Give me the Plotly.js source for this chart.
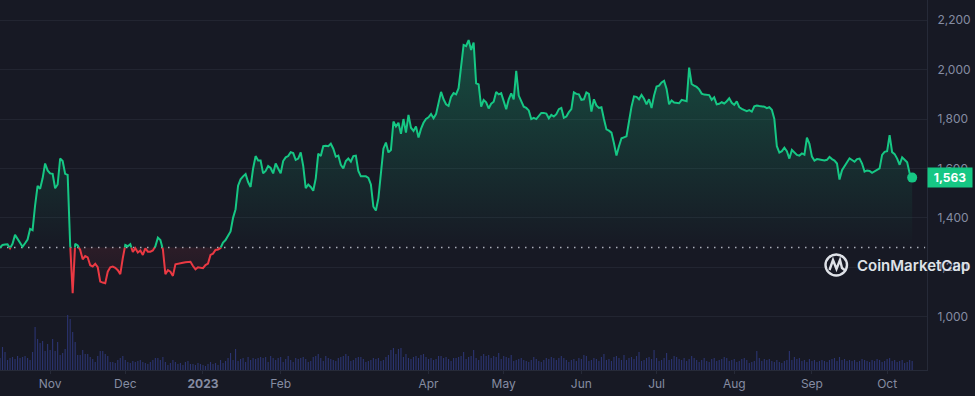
<!DOCTYPE html>
<html>
<head>
<meta charset="utf-8">
<script src="https://cdn.plot.ly/plotly-3.0.1.min.js"></script>
<style>
  html, body { margin: 0; padding: 0; background: #171924; }
  #chart { width: 975px; height: 396px; }
</style>
</head>
<body>
<div id="chart"></div>
<script>
// ---- DATA (ETH price, daily) ----
const startDate = '2022-10-12';
const prices = [
  1280,1290,1292,1293,1277,1295,1331,1315,1295,1283,
  1297,1312,1355,1350,1450,1529,1518,1560,1620,1592,
  1580,1578,1520,1535,1640,1630,1578,1574,1290,1095,
  1295,1288,1270,1232,1245,1240,1208,1203,1214,1200,
  1142,1138,1135,1182,1200,1203,1198,1188,1172,1237,
  1290,1285,1293,1262,1277,1260,1268,1250,1276,1263,
  1263,1268,1285,1320,1310,1272,1172,1188,1182,1165,
  1212,1215,1216,1218,1220,1222,1222,1205,1192,1200,
  1197,1196,1209,1215,1250,1255,1270,1272,1278,1300,
  1310,
  1325,1345,1400,1435,1530,1556,1568,1577,1545,1525,
  1600,1650,1632,1632,1580,1590,1610,1602,1580,1620,
  1600,1580,1630,1645,1650,1666,1662,1635,1640,1665,
  1610,1520,1535,1525,1510,1560,1660,1650,1690,1692,
  1690,1700,1680,1648,1652,1615,1600,1630,1640,1628,
  1650,1652,1590,1568,1568,1568,1562,1535,1445,1430,
  1480,1580,1680,1705,1665,1675,1790,1770,1785,1740,
  1800,1745,1817,1765,1752,1770,1725,1760,1785,1800,
  1807,1820,1803,1820,1870,1910,1880,1860,1853,1890,
  1905,1900,1925,2010,2100,2095,2120,2080,2110,1945,
  1940,1850,1877,1868,1843,1862,1870,1910,1900,1905,
  1870,1840,1880,1904,1880,1995,1895,1870,1850,1845,
  1835,1800,1805,1800,1815,1825,1825,1822,1803,1817,
  1810,1820,1840,1845,1805,1810,1828,1840,1908,1902,
  1900,1878,1880,1908,1902,1830,1880,1855,1845,1848,
  1800,1758,1753,1745,1702,1652,1690,1722,1726,1730,
  1790,1850,1892,1890,1880,1898,1882,1860,1880,1845,
  1895,1932,1935,1948,1955,1922,1860,1875,1867,1866,
  1864,
  1878,1875,1872,2008,1942,1935,1930,1920,1903,1899,
  1897,1897,1878,1888,1860,1862,1868,1863,1872,1884,
  1866,1858,1872,1848,1841,1835,1832,1836,1830,1852,
  1855,1853,1851,1850,1844,1848,1838,1800,1690,1664,
  1670,1684,1670,1640,1675,1665,1655,1652,1661,1656,
  1725,1700,1648,1632,1638,1636,1633,1632,1635,1647,
  1638,1632,1620,1555,1593,1610,1628,1641,1634,1627,
  1638,1640,1620,1587,1592,1590,1582,1588,1595,1600,
  1655,1667,1670,1735,1666,1658,1640,1615,1645,1636,
  1625,1580,1563
];
// relative daily volume
const volumes = [
  12,23,18,10,12,13,11,14,12,13,
  14,12,10,18,43,31,27,29,19,26,
  20,31,19,28,15,17,21,55,51,38,
  28,15,15,20,16,16,13,11,8,14,
  19,19,16,14,8,8,7,10,12,14,
  10,8,7,9,8,9,10,8,7,6,
  8,10,12,12,10,13,8,5,7,10,
  8,6,7,5,8,9,6,6,5,7,
  6,5,4,6,8,6,7,5,10,7,
  9,12,17,10,21,9,11,12,8,13,
  10,12,11,12,13,12,13,8,14,12,
  10,12,13,8,11,14,10,8,12,11,
  12,13,11,8,9,13,14,16,12,9,
  14,12,11,10,9,12,13,14,16,14,
  9,10,12,13,13,11,8,9,10,12,
  11,12,9,10,13,15,20,22,16,21,
  22,13,16,12,11,13,14,12,15,16,
  13,11,12,10,11,14,14,12,13,11,
  9,12,12,13,14,18,11,13,14,20,
  12,10,14,16,14,15,12,14,13,17,
  11,14,13,12,15,9,10,11,12,10,
  9,8,10,13,11,9,8,10,12,11,
  13,12,10,12,14,12,10,8,10,11,
  9,12,11,15,14,9,10,12,11,9,
  13,16,10,11,9,13,14,12,10,15,
  10,12,13,11,14,18,9,10,12,13,
  11,20,12,9,10,12,17,10,11,14,
  13,11,10,12,9,11,14,12,10,8,
  10,12,9,8,11,12,9,10,11,13,
  12,9,10,11,8,9,11,12,10,7,
  8,9,19,12,9,11,10,11,9,8,
  10,8,7,9,10,19,10,13,11,12,
  9,10,8,11,9,10,8,9,10,9,
  8,10,11,12,9,13,10,11,9,10,
  9,10,8,9,11,10,9,8,10,9,
  11,10,8,9,11,12,9,10,8,9,
  10,7,8,10,9
];
const tickDates = ['2022-11-01','2022-12-01','2023-01-01','2023-02-01','2023-04-01','2023-05-01','2023-06-01','2023-07-01','2023-08-01','2023-09-01','2023-10-01'];
const tickLabels = ['Nov','Dec','<b>2023</b>','Feb','Apr','May','Jun','Jul','Aug','Sep','Oct'];
const priceTicks = [1000,1200,1400,1600,1800,2000,2200];
const lastLabel = '1,563';

// ---- build ----
const DAY = 86400000;
const t0 = Date.parse(startDate + 'T00:00:00Z');
const iso = ms => new Date(ms).toISOString().slice(0,19).replace('T',' ');
const pDates = prices.map((_, i) => t0 + i*DAY);
const vDates = volumes.map((_, i) => iso(t0 + i*DAY));
const base = prices[0];

// points with baseline crossings inserted
const pts = [];
for (let i = 0; i < prices.length; i++) {
  pts.push([pDates[i], prices[i]]);
  if (i < prices.length - 1) {
    const a = prices[i] - base, b = prices[i+1] - base;
    if (a * b < 0) {
      const f = a / (a - b);
      pts.push([pDates[i] + f*DAY, base]);
    }
  }
}
const gx = [], gy = [], rx = [], ry = [];
pts.forEach(([t, v]) => {
  const d = iso(t);
  gx.push(d); gy.push(v >= base ? v : null);
  rx.push(d); ry.push(v <= base ? v : null);
});
const allX = pts.map(p => iso(p[0]));
const upY = pts.map(p => Math.max(p[1], base));
const dnY = pts.map(p => Math.min(p[1], base));
const baseY = pts.map(() => base);
const maxP = Math.max(...prices), minP = Math.min(...prices);

const traces = [
  { type: 'bar', x: vDates, y: volumes, yaxis: 'y2', marker: { color: '#2b3470', line: { width: 0 } }, hoverinfo: 'skip' },
  { type: 'scatter', mode: 'lines', x: allX, y: baseY, line: { width: 0 }, hoverinfo: 'skip' },
  { type: 'scatter', mode: 'lines', x: allX, y: upY, line: { width: 0 }, fill: 'tonexty',
    fillgradient: { type: 'vertical', start: base, stop: maxP,
      colorscale: [[0, 'rgba(22,199,132,0.0)'], [1, 'rgba(22,199,132,0.30)']] }, hoverinfo: 'skip' },
  { type: 'scatter', mode: 'lines', x: allX, y: baseY, line: { width: 0 }, hoverinfo: 'skip' },
  { type: 'scatter', mode: 'lines', x: allX, y: dnY, line: { width: 0 }, fill: 'tonexty',
    fillgradient: { type: 'vertical', start: minP, stop: base,
      colorscale: [[0, 'rgba(234,57,67,0.0)'], [1, 'rgba(234,57,67,0.10)']] }, hoverinfo: 'skip' },
  { type: 'scatter', mode: 'lines', x: rx, y: ry, connectgaps: false, line: { color: '#ea3943', width: 2 }, hoverinfo: 'skip' },
  { type: 'scatter', mode: 'lines', x: gx, y: gy, connectgaps: false, line: { color: '#16c784', width: 2 }, hoverinfo: 'skip' },
  { type: 'scatter', mode: 'markers', x: [iso(pDates[pDates.length-1])], y: [prices[prices.length-1]],
    marker: { color: '#16c784', size: 10 }, hoverinfo: 'skip' }
];

// logo helpers (pixel -> paper, plot area 927x370)
const PW = 927, PH = 370;
const px = x => x / PW, py = y => (PH - y) / PH;
const P = (x, y) => px(x).toFixed(5) + ',' + py(y).toFixed(5);
const logoPath = 'M' + P(829.5, 270) + ' L' + P(833, 260) + ' L' + P(836.5, 269) + ' L' + P(840, 260) + ' L' + P(842, 268) + ' L' + P(846, 271);

const layout = {
  width: 975, height: 396,
  margin: { l: 0, r: 48, t: 0, b: 26, pad: 0 },
  paper_bgcolor: '#171924', plot_bgcolor: '#171924',
  showlegend: false,
  bargap: 0.55,
  font: { family: 'Inter, "Noto Sans", sans-serif', color: '#858ca2', size: 12 },
  xaxis: {
    type: 'date',
    range: ['2022-10-12 00:00', '2023-10-16 22:00'],
    tickvals: tickDates, ticktext: tickLabels,
    showgrid: false, zeroline: false,
    showline: true, linecolor: '#262a38', linewidth: 1,
    ticks: 'outside', ticklen: 3, tickcolor: '#262a38',
    tickfont: { size: 12, color: '#858ca2' },
    fixedrange: true
  },
  yaxis: {
    side: 'right',
    range: [784, 2282],
    tickvals: priceTicks, tickformat: ',d',
    showgrid: true, gridcolor: '#222531', gridwidth: 1,
    zeroline: false,
    showline: true, linecolor: '#262a38', linewidth: 1,
    ticks: '', ticklabelstandoff: 7,
    tickfont: { size: 12, color: '#858ca2' },
    fixedrange: true
  },
  yaxis2: {
    overlaying: 'y', range: [0, 370], visible: false, fixedrange: true
  },
  shapes: [
    { type: 'line', xref: 'paper', x0: 0, x1: 0.998, yref: 'y', y0: base, y1: base,
      line: { color: 'rgba(220,224,235,0.75)', width: 1.5, dash: '1.5px,5.5px' }, layer: 'below' },
    { type: 'circle', xref: 'paper', yref: 'paper', x0: px(825.5), x1: px(847), y0: py(275.5), y1: py(254.5),
      line: { color: '#dfe2e8', width: 2.4 }, layer: 'above' },
    { type: 'path', xref: 'paper', yref: 'paper', path: logoPath,
      line: { color: '#dfe2e8', width: 2.4 }, layer: 'above' }
  ],
  annotations: [
    { xref: 'paper', yref: 'y', x: 1, y: prices[prices.length-1], xanchor: 'left', yanchor: 'middle',
      text: '<b>' + lastLabel + '</b>', showarrow: false,
      bgcolor: '#16c784', font: { color: '#ffffff', size: 12, family: 'Inter, sans-serif' },
      width: 40, height: 15, borderpad: 2, align: 'center' },
    { xref: 'paper', yref: 'paper', x: px(855), y: py(265.5), xanchor: 'left', yanchor: 'middle',
      text: 'CoinMarketCap', showarrow: false,
      font: { color: '#dfe2e8', size: 15, family: 'Inter, sans-serif', weight: 600 } }
  ]
};

Plotly.newPlot('chart', traces, layout, { displayModeBar: false, staticPlot: true });
</script>
</body>
</html>
